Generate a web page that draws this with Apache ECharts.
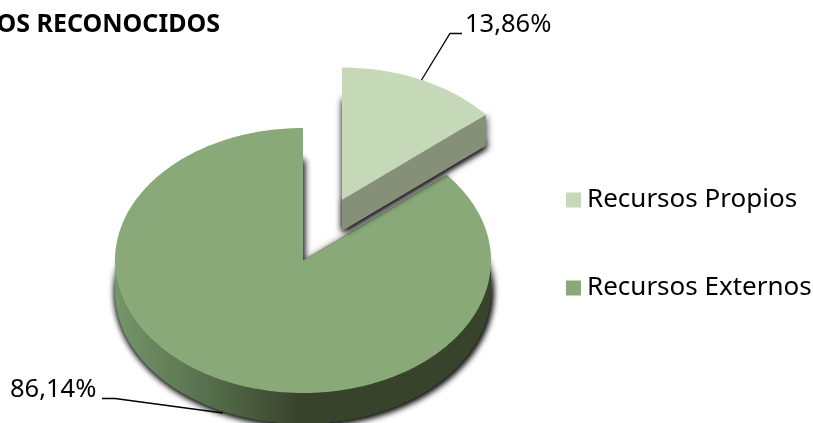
<!DOCTYPE html>
<html>
<head>
<meta charset="utf-8">
<title>Recursos</title>
<style>
html, body { margin: 0; padding: 0; background: #fff; }
#chart { width: 813px; height: 423px; }
</style>
<script src="https://cdn.jsdelivr.net/npm/echarts@6/dist/echarts.min.js"></script>
</head>
<body>
<div id="chart"></div>
<script>
var categories = ['Recursos Propios', 'Recursos Externos'];
var values = [13.86, 86.14];

var topColors = ['#C5D8B7', '#89AA78'];
var fontName = '"Noto Sans", sans-serif';

// ellipse of the pie top, height of the rim, and where each slice sits
var rx = 188, ry = 132.5, depth = 31;
var centers = [[342, 200], [303, 260.5]];
var rims = [
    '#868F78',
    { type: 'linear', x: 115, y: 0, x2: 300, y2: 0, global: true, colorStops: [
        { offset: 0, color: '#76966A' },
        { offset: 0.5, color: '#566F4C' },
        { offset: 1, color: '#38432C' }
    ] }
];
// leader line and label of each slice
var leaders = [
    { line: [[421.5, 80], [450, 33.5], [462, 33.5]], x: 465, y: 25 },
    { line: [[102, 398.5], [115, 398.5], [223, 413]], x: 10, y: 390 }
];

function point(c, a, dy) {
    return [c[0] + rx * Math.sin(a), c[1] - ry * Math.cos(a) + (dy || 0)];
}

function arcPoints(c, a0, a1, dy) {
    var pts = [];
    var steps = Math.max(2, Math.ceil((a1 - a0) * 60));
    for (var k = 0; k <= steps; k++) {
        pts.push(point(c, a0 + (a1 - a0) * k / steps, dy));
    }
    return pts;
}

function wedge(c, a0, a1, dy) {
    return [[c[0], c[1] + (dy || 0)]].concat(arcPoints(c, a0, a1, dy));
}

function face(points, fill) {
    return {
        type: 'polygon',
        shape: { points: points },
        style: { fill: fill, shadowBlur: 7, shadowColor: 'rgba(0,0,0,0.75)', shadowOffsetX: 1, shadowOffsetY: 1 }
    };
}

function renderSlice(params, api) {
    var i = params.seriesIndex;
    var total = values[0] + values[1];
    var before = 0;
    for (var k = 0; k < i; k++) before += values[k];
    var a0 = before / total * Math.PI * 2;
    var a1 = a0 + api.value(0) / total * Math.PI * 2;
    var c = centers[i];
    var rim = rims[i];
    var kids = [];

    // bottom of the slice carries the soft shadow, twice to get it dark enough
    kids.push(face(wedge(c, a0, a1, depth), rim));
    kids.push(face(wedge(c, a0, a1, depth), rim));
    // cut sides
    [a0, a1].forEach(function (a) {
        var p = point(c, a);
        kids.push(face([[c[0], c[1]], p, [p[0], p[1] + depth], [c[0], c[1] + depth]], rim));
    });
    // outer rim, only the front half shows
    var from = Math.max(a0, Math.PI / 2), to = Math.min(a1, Math.PI * 1.5);
    if (to > from) {
        kids.push(face(arcPoints(c, from, to, 0).concat(arcPoints(c, from, to, depth).reverse()), rim));
    }
    // top
    kids.push({ type: 'polygon', shape: { points: wedge(c, a0, a1, 0) }, style: { fill: topColors[i] } });
    // leader and label
    kids.push({
        type: 'polyline',
        shape: { points: leaders[i].line },
        style: { stroke: '#000', lineWidth: 1.3, fill: null }
    });
    kids.push({
        type: 'text',
        style: {
            text: api.value(0).toFixed(2).replace('.', ',') + '%',
            x: leaders[i].x, y: leaders[i].y,
            fill: '#000', fontSize: 25.5, fontFamily: fontName,
            textAlign: 'left', textVerticalAlign: 'middle'
        }
    });
    return { type: 'group', children: kids };
}

var chart = echarts.init(document.getElementById('chart'));
var option = {
    animation: false,
    backgroundColor: '#fff',
    title: {
        text: 'OS RECONOCIDOS',
        right: 588,
        top: 7,
        textStyle: { color: '#000', fontSize: 25, fontWeight: 'bold', fontFamily: fontName }
    },
    legend: {
        orient: 'vertical',
        left: 561,
        top: 182,
        itemWidth: 15,
        itemHeight: 15,
        itemGap: 62,
        icon: 'rect',
        data: categories,
        textStyle: { color: '#000', fontSize: 26, fontFamily: fontName, padding: [0, 0, 0, 1] }
    },
    // big slice first, the pulled out one lies over it
    series: [1, 0].map(function (i) {
        return {
            name: categories[i],
            type: 'custom',
            coordinateSystem: 'none',
            silent: true,
            itemStyle: { color: topColors[i] },
            data: [[values[i]]],
            renderItem: function (params, api) {
                return renderSlice({ seriesIndex: i }, api);
            }
        };
    })
};
chart.setOption(option);
</script>
</body>
</html>
